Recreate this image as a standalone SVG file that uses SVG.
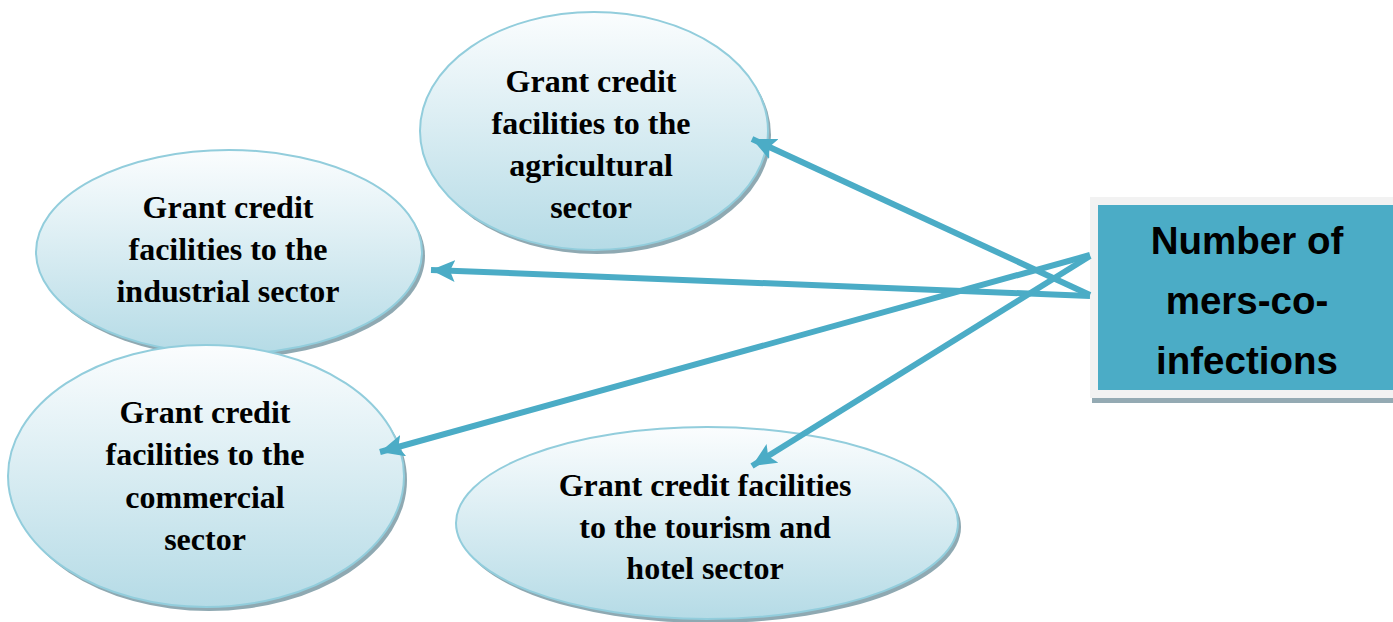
<svg xmlns="http://www.w3.org/2000/svg" width="1393" height="622" viewBox="0 0 1393 622">
  <defs>
    <linearGradient id="ellFill" x1="0" y1="0" x2="0" y2="1">
      <stop offset="0" stop-color="#fbfdfe"/>
      <stop offset="1" stop-color="#b5dbe6"/>
    </linearGradient>
    <marker id="arrow" markerUnits="userSpaceOnUse" markerWidth="26" markerHeight="22" refX="24" refY="11" orient="auto">
      <path d="M0,0 L24,11 L0,22 L5,11 Z" fill="#4BACC6"/>
    </marker>
  </defs>
  <style>
    .shadow { fill: #8fa9b2; }
    .ell { fill: url(#ellFill); stroke: #92cddc; stroke-width: 2; }
    .lbl { font-family: "Liberation Serif", "Times New Roman", serif; font-weight: bold; font-size: 32px; fill: #000; text-anchor: middle; }
    .boxlbl { font-family: "Liberation Sans", Arial, sans-serif; font-weight: bold; font-size: 38.5px; fill: #000; text-anchor: middle; }
    .conn { stroke: #4BACC6; stroke-width: 6; fill: none; marker-end: url(#arrow); }
  </style>
  <rect width="1393" height="622" fill="#ffffff"/>

  <g id="node-industrial">
    <ellipse class="shadow" cx="232" cy="256" rx="193" ry="102"/>
    <ellipse class="ell" cx="229" cy="252" rx="193" ry="102"/>
    <text class="lbl" x="228" y="218">Grant credit</text>
    <text class="lbl" x="228" y="260">facilities to the</text>
    <text class="lbl" x="228" y="302">industrial sector</text>
  </g>

  <g id="node-agricultural">
    <ellipse class="shadow" cx="597" cy="135" rx="174" ry="119"/>
    <ellipse class="ell" cx="594" cy="131" rx="174" ry="119"/>
    <text class="lbl" x="591" y="92">Grant credit</text>
    <text class="lbl" x="591" y="134">facilities to the</text>
    <text class="lbl" x="591" y="176">agricultural</text>
    <text class="lbl" x="591" y="218">sector</text>
  </g>

  <g id="node-commercial">
    <ellipse class="shadow" cx="209" cy="480" rx="198" ry="131"/>
    <ellipse class="ell" cx="206" cy="476" rx="198" ry="131"/>
    <text class="lbl" x="205" y="423">Grant credit</text>
    <text class="lbl" x="205" y="465">facilities to the</text>
    <text class="lbl" x="205" y="508">commercial</text>
    <text class="lbl" x="205" y="550">sector</text>
  </g>

  <g id="node-tourism">
    <ellipse class="shadow" cx="710" cy="527" rx="251" ry="96"/>
    <ellipse class="ell" cx="707" cy="523" rx="251" ry="96"/>
    <text class="lbl" x="705" y="496">Grant credit facilities</text>
    <text class="lbl" x="705" y="538">to the tourism and</text>
    <text class="lbl" x="705" y="579">hotel sector</text>
  </g>

  <g id="node-mers">
    <rect x="1092" y="398" width="301" height="5" fill="#94aab3"/>
    <rect x="1090" y="197" width="303" height="201" fill="#f2f2f2"/>
    <rect x="1098" y="205" width="295" height="185" fill="#4BACC6"/>
    <text class="boxlbl" x="1247" y="254">Number of</text>
    <text class="boxlbl" x="1247" y="314">mers-co-</text>
    <text class="boxlbl" x="1247" y="374">infections</text>
  </g>

  <g id="connectors">
    <line class="conn" x1="1090" y1="295" x2="752" y2="139"/>
    <line class="conn" x1="1090" y1="296" x2="431" y2="270"/>
    <line class="conn" x1="1090" y1="255" x2="380" y2="452"/>
    <line class="conn" x1="1090" y1="256" x2="752" y2="466"/>
  </g>
</svg>
